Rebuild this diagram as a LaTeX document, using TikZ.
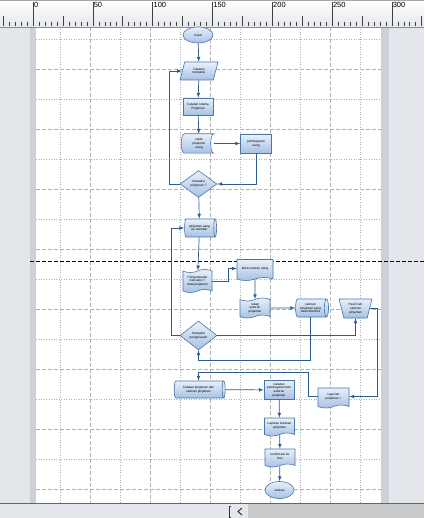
\documentclass[tikz,border=0pt]{standalone}
\usepackage{fontspec}
\setmainfont{Liberation Sans}
\usetikzlibrary{shapes.geometric, shapes.symbols, arrows, positioning}

\definecolor{lineblue}{HTML}{2F5C8F}
\definecolor{edgeblue}{HTML}{4A76A8}
\definecolor{filltop}{HTML}{E8F0FA}
\definecolor{fillbot}{HTML}{A6C1E4}
\definecolor{gridgray}{HTML}{B2B2B2}
\definecolor{panegray}{HTML}{E3E6EA}
\definecolor{sidegray}{HTML}{CDD1D7}
\definecolor{rulergray}{HTML}{E4E7EB}
\definecolor{scrollgray}{HTML}{C9CACC}

\tikzset{
  flow/.style={draw=edgeblue, line width=0.6pt, top color=filltop, bottom color=fillbot},
  tinytext/.style={font=\fontsize{3.2}{3.7}\selectfont, align=center, inner sep=0.5pt},
  process/.style={flow, tinytext, rectangle, minimum width=30pt, minimum height=18pt},
  terminal/.style={flow, tinytext, ellipse, minimum width=30pt, minimum height=16pt},
  datain/.style={flow, tinytext, trapezium, trapezium left angle=72, trapezium right angle=108,
    trapezium stretches=true, minimum width=38pt, minimum height=18pt},
  manualop/.style={flow, tinytext, trapezium, trapezium left angle=75, trapezium right angle=75,
    shape border rotate=180, trapezium stretches=true, minimum width=33pt, minimum height=19pt},
  decision/.style={flow, tinytext, diamond, aspect=1.37, minimum width=37pt, minimum height=27pt, inner sep=0pt},
  % cylinder: minimum width runs across the axis, minimum height along it
  database/.style={flow, tinytext, cylinder, shape aspect=0.4, minimum width=18pt, minimum height=32pt},
  tapedoc/.style={flow, tinytext, tape, tape bend height=3pt, minimum width=30pt, minimum height=21pt},
  docshape/.style={tapedoc, tape bend top=none},
  storedbox/.style={rectangle, minimum width=29pt, minimum height=19pt, inner sep=0pt},
  link/.style={draw=lineblue, line width=0.7pt, -latex},
  minorgrid/.style={gridgray, line width=0.5pt, dash pattern=on 1pt off 1.5pt},
  majorgrid/.style={gridgray, line width=0.5pt, dash pattern=on 4pt off 2pt},
  tickline/.style={black!75, line width=0.5pt},
  rulerlabel/.style={font=\fontsize{7.5}{8}\selectfont, inner sep=0.8pt}
}

\begin{document}
\begin{tikzpicture}[x=1pt, y=-1pt]
\useasboundingbox (0,0) rectangle (424,518);

% window around the page
\fill[panegray] (0,27) rectangle (424,503);
\fill[sidegray] (30,27) rectangle (36,503);
\fill[sidegray] (381,27) rectangle (389,503);
\fill[white] (36,27) rectangle (381,503);

% grid
\foreach \gx in {60,120,...,360} \draw[minorgrid] (\gx,27) -- (\gx,503);
\foreach \gx in {90,150,...,330} \draw[majorgrid] (\gx,27) -- (\gx,503);
\foreach \gy in {39,99,...,459} \draw[minorgrid] (36,\gy) -- (381,\gy);
\foreach \gy in {69,129,...,489} \draw[majorgrid] (36,\gy) -- (381,\gy);

% ruler
\fill[top color=white, bottom color=rulergray] (0,0) rectangle (424,27);
\draw[black!35, line width=0.6pt] (0,0.3) -- (424,0.3);
\draw[black!45, line width=0.6pt] (0,27) -- (424,27);
\foreach \u in {-25,-20,...,325} \draw[tickline] ({33+1.196*\u},22) -- ({33+1.196*\u},26.5);
\foreach \u in {-25,25,75,...,325} \draw[tickline] ({33+1.196*\u},16) -- ({33+1.196*\u},26.5);
\foreach \u in {0,50,...,300}{
  \draw[tickline] ({33+1.196*\u},2) -- ({33+1.196*\u},26.5);
  \node[rulerlabel, anchor=north west] (r\u) at ({33+1.196*\u},1.5) {\u};
}

% page break
\draw[black, line width=0.8pt, dash pattern=on 4pt off 2pt] (30,261) -- (424,261);

% status bar
\fill[panegray] (0,503) rectangle (424,518);
\fill[scrollgray] (248,504) rectangle (424,518);
\draw[black!60, line width=0.8pt] (0,503.5) -- (424,503.5);
\draw[black!80, line width=0.6pt] (231,506) -- (229,506) -- (229,517) -- (231,517);
\draw[black!80, line width=1pt] (242,508) -- (238,511.5) -- (242,515);

% upper loop
\node[terminal] (start) at (198,35) {mulai};
\node[datain] (input) at (199,71) {Catatan\\transaksi};
\node[process, minimum height=17pt] (catat) at (198,106.5) {Catatan Utama\\Pinjaman};
\node[storedbox] (disp) at (199,143.5) {};
\path[flow] (disp.north west) .. controls +(-4,0) and +(-4,0) .. (disp.south west)
  -- (disp.south east) .. controls +(-4,0) and +(-4,0) .. (disp.north east) -- cycle;
\node[tinytext] (disptext) at (disp) {saldo\\pinjaman\\uang};
\node[process, minimum width=31pt, minimum height=19pt, right=26.5pt of disp] (bayar) {pembayaran\\uang};
\node[decision] (cek1) at (198.5,184) {transaksi\\pinjaman ?};
\node[database] (cyl1) at (199.5,228) {pinjaman uang\\ke member};

% lower part
\node[tapedoc, minimum width=29pt, minimum height=23pt] (tape1) at (197.5,281) {Pengumpulan\\transaksi +\\data pinjaman};
\node[docshape, minimum width=36pt, minimum height=21pt] (doc1) at (255,268.5) {bukti setoran uang};
\node[tapedoc, minimum height=20pt] (tape2) at (255,308) {rekap\\setoran\\pinjaman};
\node[database, minimum height=33pt] (cyl2) at (310.5,308) {setoran\\pinjaman yang\\telah diterima};
\node[manualop] (manual) at (355.5,308.5) {Hasil Cek\\setoran\\pinjaman};
\node[decision, minimum height=29pt] (cek2) at (198.5,335.5) {transaksi\\pengeluaran};
\node[database, minimum height=51pt, minimum width=17pt] (cyl3) at (198.5,389.5) {Catatan pinjaman dan\\setoran pinjaman};
\node[process, minimum height=19pt] (rect2) at (279,390) {Catatan\\pembayaran dan\\setoran\\pinjaman};
\node[docshape, minimum width=31pt, minimum height=20pt] (doc2) at (333.5,396.5) {Laporan\\pinjaman +};
\node[docshape, minimum height=18pt] (doc3) at (279.5,425.5) {Laporan bulanan\\pinjaman};
\node[docshape, minimum height=18pt] (doc4) at (280,456.5) {konfirmasi ke\\bos};
\node[terminal, minimum width=29pt, minimum height=17pt] (stop) at (279.5,490) {selesai};
\coordinate (jn) at ([yshift=8pt]cyl3.north);

% connectors
\draw[link] (start) -- (input);
\draw[link] (input) -- (catat);
\draw[link] (catat) -- (disp);
\draw[link] (disp.east) -- (bayar);
\draw[link] (bayar.south) |- (cek1.east);
\draw[link] (cek1.west) -- ++(-10,0) |- (input.west);
\draw[link] (cek1) -- (cyl1);
\draw[link] (cyl1) -- (tape1);
\draw[link] (tape1.east) -- ++(16,0) |- (doc1.west);
\draw[link] (doc1) -- (tape2);
\draw[link] (tape2) -- (cyl2);
\draw[link] (cek2.west) -- ++(-8,0) |- (cyl1.west);
\draw[link] (cek2.east) -| (manual.south);
\draw[link] (cyl2.south) -- ++(0,43) -| (cek2.south);
\draw[link] (manual.east) -- ++(7,0) |- (doc2.east);
\draw[link] (doc2.west) -- ++(-9,0) |- (jn) -- (cyl3.north);
\draw[link] (cyl3) -- (rect2);
\draw[link] (rect2) -- (doc3);
\draw[link] (doc3) -- (doc4);
\draw[link] (doc4) -- (stop);
\end{tikzpicture}
\end{document}
